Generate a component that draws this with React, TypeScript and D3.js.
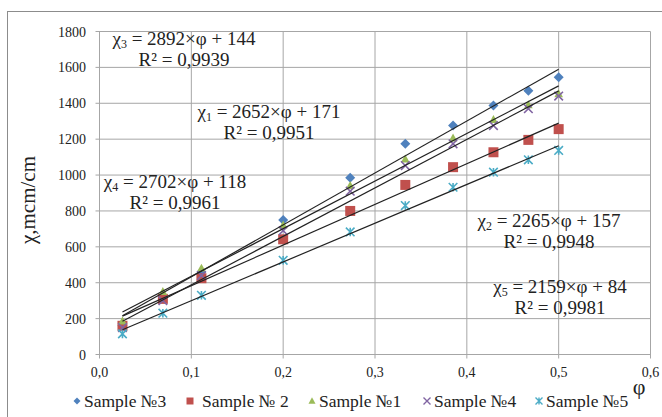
import React, { useEffect, useRef } from "react";
import * as d3 from "d3";

// φ values, shared by all samples
const phi = [0.025, 0.069, 0.111, 0.2, 0.273, 0.333, 0.385, 0.429, 0.467, 0.5];

const sampleNames = ["Sample №3", "Sample № 2", "Sample №1", "Sample №4", "Sample №5"];
const sample3 = [160, 320, 460, 750, 985, 1175, 1276, 1388, 1470, 1545];
const sample2 = [160, 310, 425, 642, 800, 945, 1044, 1127, 1196, 1256];
const sample1 = [185, 350, 480, 720, 940, 1088, 1205, 1308, 1390, 1452];
const sample4 = [150, 300, 440, 690, 910, 1053, 1174, 1276, 1370, 1440];
const sample5 = [115, 230, 330, 525, 683, 830, 932, 1016, 1085, 1137];

// trendline coefficients χ = slope×φ + intercept
const slopes = [2892, 2265, 2652, 2702, 2159];
const intercepts = [144, 157, 171, 118, 84];
const rSquared = ["0,9939", "0,9948", "0,9951", "0,9961", "0,9981"];
const subscripts = ["3", "2", "1", "4", "5"];

const yTicks = [0, 200, 400, 600, 800, 1000, 1200, 1400, 1600, 1800];
const xTicks = [0, 0.1, 0.2, 0.3, 0.4, 0.5, 0.6];

const colors = ["#4F81BD", "#C0504D", "#9BBB59", "#8064A2", "#4BACC6"];

const W = 662;
const H = 417;
const FONT = "Liberation Serif, DejaVu Serif, serif";

function markerPath(i: number, s: number): string {
  if (i === 0) return `M0,${-s}L${s},0L0,${s}L${-s},0Z`;
  if (i === 1) return `M${-s},${-s}H${s}V${s}H${-s}Z`;
  if (i === 2) return `M0,${-s * 1.1}L${s},${s * 0.75}L${-s},${s * 0.75}Z`;
  if (i === 3) return `M${-s},${-s}L${s},${s}M${-s},${s}L${s},${-s}`;
  return `M${-s},${-s}L${s},${s}M${-s},${s}L${s},${-s}M0,${-s}V${s}`;
}

const App: React.FC = () => {
  const ref = useRef<SVGSVGElement>(null);

  useEffect(() => {
    const svg = d3.select(ref.current);
    svg.selectAll("*").remove();

    const series = [sample3, sample2, sample1, sample4, sample5];

    const x = d3.scaleLinear().domain([0, 0.6]).range([99.5, 650.5]);
    const y = d3.scaleLinear().domain([0, 1800]).range([354.5, 31.5]);

    // outer chart frame
    svg.append("rect")
      .attr("x", 7.5).attr("y", 11.5)
      .attr("width", 700).attr("height", 500)
      .attr("fill", "#fff").attr("stroke", "#8c8c8c");

    const grid = svg.append("g").attr("stroke", "#a6a6a6").attr("stroke-width", 1);
    grid.selectAll("line.h").data(yTicks).enter().append("line")
      .attr("x1", x(0) - 4).attr("x2", x(0.6))
      .attr("y1", d => y(d)).attr("y2", d => y(d));
    grid.selectAll("line.v").data(xTicks).enter().append("line")
      .attr("y1", y(1800)).attr("y2", y(0) + 4)
      .attr("x1", d => x(d)).attr("x2", d => x(d));

    const txt = svg.append("g").attr("font-family", FONT).attr("fill", "#222");

    txt.append("g").selectAll("text").data(yTicks).enter().append("text")
      .attr("x", 86).attr("y", d => y(d) + 5)
      .attr("text-anchor", "end")
      .attr("font-size", 14)
      .text(d => String(d));

    txt.append("g").selectAll("text").data(xTicks).enter().append("text")
      .attr("x", d => x(d)).attr("y", 377)
      .attr("text-anchor", "middle")
      .attr("font-size", 14)
      .text(d => d.toFixed(1).replace(".", ","));

    // axis titles
    txt.append("text")
      .attr("transform", "translate(35,200) rotate(-90)")
      .attr("text-anchor", "middle")
      .attr("font-size", 21)
      .text("χ,mcm/cm");
    txt.append("text")
      .attr("x", 639).attr("y", 394)
      .attr("text-anchor", "middle")
      .attr("font-size", 22)
      .text("φ");

    // markers
    series.forEach((vals, i) => {
      const g = svg.append("g");
      g.selectAll("path").data(vals).enter().append("path")
        .attr("transform", (d, j) => `translate(${x(phi[j])},${y(d)})`)
        .attr("d", markerPath(i, i === 1 ? 5 : i === 0 ? 5 : 4.3))
        .attr("fill", i < 3 ? colors[i] : "none")
        .attr("stroke", colors[i])
        .attr("stroke-width", i < 3 ? 0 : 1.6);
    });

    // trendlines
    slopes.forEach((a, i) => {
      const ends = [phi[0], phi[phi.length - 1]];
      svg.append("path")
        .attr("d", d3.line<number>().x(d => x(d)).y(d => y(a * d + intercepts[i]))(ends) || "")
        .attr("fill", "none").attr("stroke", "#222").attr("stroke-width", 1.2);
    });

    // equation labels: [center x, baseline y] per series
    const labelPos: [number, number][] = [[184, 45], [549, 227], [269, 118], [175, 188], [560, 293]];
    const lbl = svg.append("g").attr("font-family", FONT).attr("fill", "#222");
    labelPos.forEach(([cx, by], i) => {
      const t = lbl.append("text")
        .attr("x", cx).attr("y", by)
        .attr("text-anchor", "middle")
        .attr("font-size", 19);
      t.append("tspan").text("χ");
      t.append("tspan").attr("font-size", 12).attr("dy", 3).text(subscripts[i]);
      t.append("tspan").attr("dy", -3).text(` = ${slopes[i]}×φ + ${intercepts[i]}`);
      lbl.append("text")
        .attr("x", cx).attr("y", by + 21)
        .attr("text-anchor", "middle")
        .attr("font-size", 19)
        .text(`R² = ${rSquared[i]}`);
    });

    // legend
    const legendX = [77, 190, 312, 427, 539];
    const leg = svg.append("g").attr("font-family", FONT).attr("fill", "#222");
    sampleNames.forEach((name, i) => {
      leg.append("path")
        .attr("transform", `translate(${legendX[i]},${401})`)
        .attr("d", markerPath(i, 3.5))
        .attr("fill", i < 3 ? colors[i] : "none")
        .attr("stroke", colors[i])
        .attr("stroke-width", i < 3 ? 0 : 1.4);
      leg.append("text")
        .attr("x", legendX[i] + (i === 1 ? 12 : 7)).attr("y", 407)
        .attr("font-size", 17.5)
        .text(name);
    });
  }, []);

  return (
    <svg
      ref={ref}
      width={W}
      height={H}
      style={{ position: "absolute", left: 0, top: 0, background: "#fff" }}
    />
  );
};

export default App;
